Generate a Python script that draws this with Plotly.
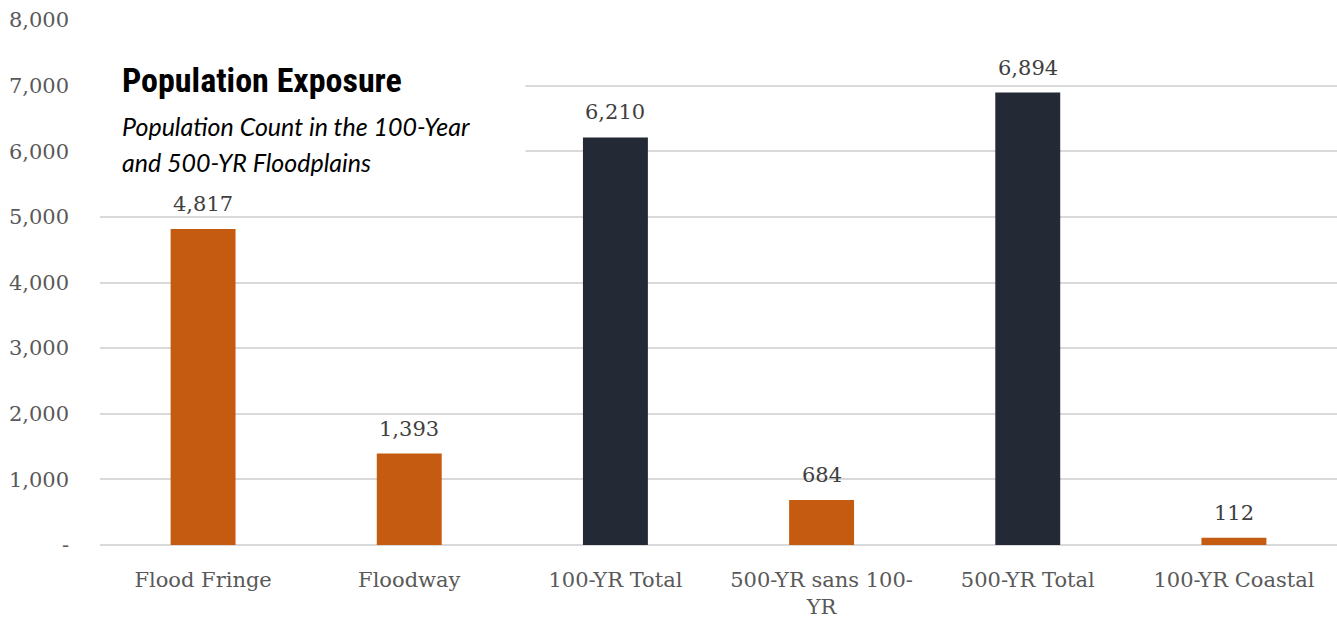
import plotly.graph_objects as go

categories = ["Flood Fringe", "Floodway", "100-YR Total",
              "500-YR sans 100-<br>YR", "500-YR Total", "100-YR Coastal"]
population = [4817, 1393, 6210, 684, 6894, 112]
bar_colors = ["#C55A11", "#C55A11", "#232A36", "#C55A11", "#232A36", "#C55A11"]

y_tickvals = [0, 1000, 2000, 3000, 4000, 5000, 6000, 7000, 8000]
y_ticktext = ["-", "1,000", "2,000", "3,000", "4,000", "5,000", "6,000", "7,000", "8,000"]

subtitle_lines = ["Population Count in the 100-Year", "and 500-YR Floodplains"]

slab = "Roboto Slab, DejaVu Serif, serif"
PLOT_TOP, PLOT_BOTTOM = 20, 545


def paper_y(px):
    return (PLOT_BOTTOM - px) / (PLOT_BOTTOM - PLOT_TOP)


fig = go.Figure()
fig.add_trace(go.Bar(
    x=categories, y=population,
    marker=dict(color=bar_colors, line=dict(width=0)),
    width=0.315,
    hoverinfo="x+y",
))

# value labels above each bar
for cat, val in zip(categories, population):
    fig.add_annotation(
        x=cat, y=val, xref="x", yref="y",
        text=f"{val:,}", showarrow=False,
        yanchor="bottom", yshift=11,
        font=dict(family=slab, size=21, color="#404040"),
    )

# title block sits on a white panel over the gridlines
fig.add_shape(type="rect", xref="paper", yref="paper",
              x0=0.0, x1=0.344, y0=0.68, y1=0.93,
              fillcolor="white", line=dict(width=0), layer="above")
fig.add_annotation(
    xref="paper", yref="paper", x=0.0162, y=paper_y(80),
    xanchor="left", yanchor="middle", showarrow=False,
    text="<b>Population Exposure</b>",
    font=dict(family="Liberation Sans Narrow, Roboto Condensed, Roboto, sans-serif",
              size=34, color="#000000"),
)
for line, ypx in zip(subtitle_lines, [126, 162]):
    fig.add_annotation(
        xref="paper", yref="paper", x=0.0162, y=paper_y(ypx),
        xanchor="left", yanchor="middle", showarrow=False,
        text=f"<i>{line}</i>",
        font=dict(family="Lato, Open Sans, sans-serif", size=25, color="#000000"),
    )

fig.update_layout(
    width=1337, height=621,
    margin=dict(l=100, r=0, t=PLOT_TOP, b=621 - PLOT_BOTTOM),
    paper_bgcolor="white", plot_bgcolor="white",
    showlegend=False,
    font=dict(family=slab, size=21, color="#595959"),
    xaxis=dict(
        showgrid=False, showline=False, ticks="",
        tickfont=dict(family=slab, size=21, color="#595959"),
        range=[-0.5, 5.5], ticklabelstandoff=20,
    ),
    yaxis=dict(
        range=[0, 8000], tickvals=y_tickvals, ticktext=y_ticktext,
        showgrid=True, gridcolor="#D9D9D9", gridwidth=1.5,
        zeroline=True, zerolinecolor="#D9D9D9", zerolinewidth=1.5,
        showline=False, ticks="", ticklabelstandoff=30,
        tickfont=dict(family=slab, size=21, color="#595959"),
    ),
)

fig.write_html("out.html")
